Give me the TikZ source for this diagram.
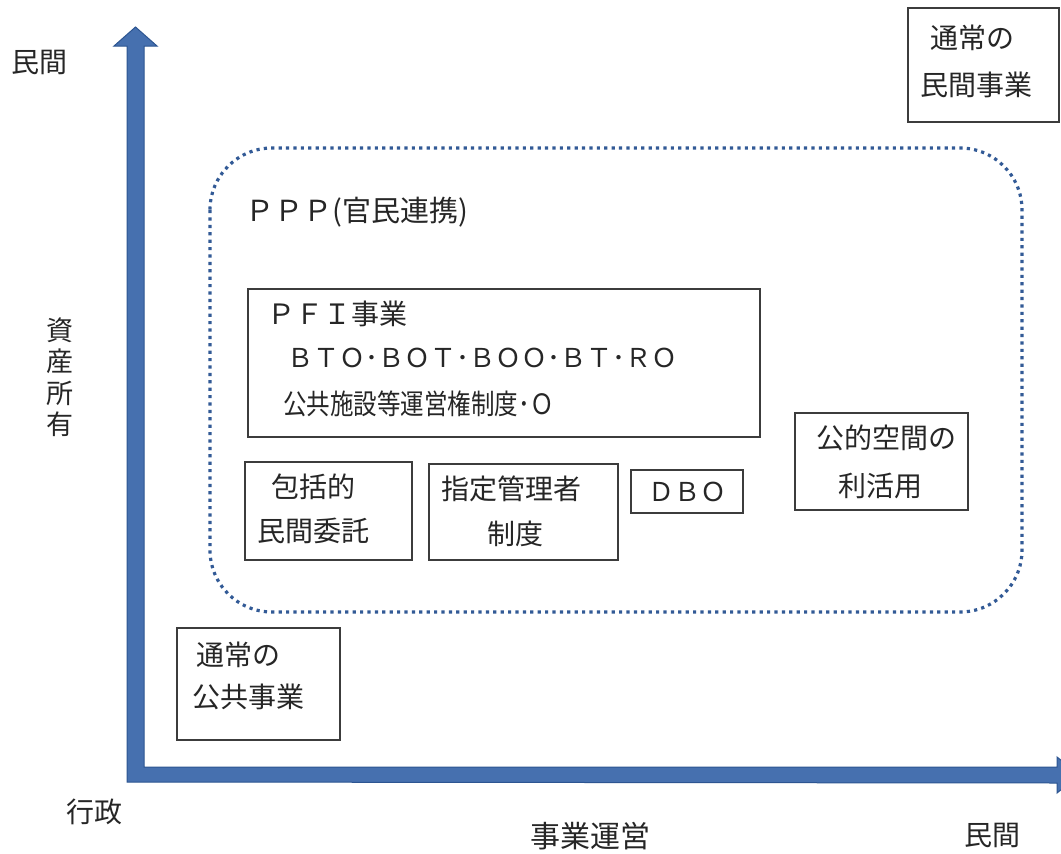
\documentclass[tikz,border=0pt]{standalone}
\usepackage{fontspec}
\setmainfont{Noto Sans CJK JP}
\usetikzlibrary{calc}
\definecolor{axisblue}{RGB}{70,112,175}
\definecolor{axisdark}{RGB}{45,85,145}
\definecolor{dotblue}{RGB}{50,90,150}
\definecolor{boxline}{RGB}{60,60,60}
\tikzset{
  lbl/.style={font=\fontsize{28}{32}\selectfont, text=black!85, inner sep=0pt},
  frame/.style={draw=boxline, line width=1.6pt},
  axis/.style={fill=axisblue, draw=axisdark, line width=1pt}
}
\begin{document}
\begin{tikzpicture}[x=1pt,y=-1pt]
\useasboundingbox (0,0) rectangle (1061,854);
\fill[white] (0,0) rectangle (1061,854);
% axes
\begin{scope}
\clip (0,0) rectangle (1061,854);
\filldraw[axis] (127,782) -- (127,46) -- (114,46) -- (135.5,27) -- (157,46) -- (144,46) -- (144,767) -- (1057,767) -- (1057,757) -- (1080,775) -- (1057,793) -- (1057,783) -- cycle;
\end{scope}
% axis labels
\node[lbl] (minkanY) at (40,62) {民間};
\node[lbl, align=center, font=\fontsize{27}{31.5}\selectfont] (shisan) at (60,377) {資\\産\\所\\有};
\node[lbl] (gyosei) at (94,812) {行政};
\node[lbl, font=\fontsize{30}{34}\selectfont] (jigyo) at (590,836) {事業運営};
\node[lbl] (minkanX) at (992,835) {民間};
% top right box
\draw[frame] (908,8) rectangle (1059,122);
\node[lbl] (tsujo1) at (972,38) {通常の};
\node[lbl] (tsujo2) at (976,85) {民間事業};
% PPP dotted area
\draw[dotblue, line width=3.2pt, dash pattern=on 3.2pt off 4.2pt, rounded corners=62pt] (210,148) rectangle (1022,612);
\node[lbl, anchor=west, font=\fontsize{29}{32}\selectfont] (ppp) at (245,212) {ＰＰＰ(官民連携)};
% PFI box
\draw[frame] (248,289) rectangle (760,437);
\node[lbl, anchor=west] (pfi) at (267,314) {ＰＦＩ事業};
\node[lbl, anchor=west, font=\fontsize{26}{30}\selectfont] (bto) at (287,358) {ＢＴＯ･ＢＯＴ･ＢＯＯ･ＢＴ･ＲＯ};
\node[lbl, anchor=west] (kokyo) at (283,404) {\scalebox{0.84}[1]{公共施設等運営権制度･Ｏ}};
% other boxes
\draw[frame] (245,462) rectangle (412,560);
\node[lbl] (hokatsu1) at (313,487) {包括的};
\node[lbl] (hokatsu2) at (313,531) {民間委託};
\draw[frame] (429,464) rectangle (618,560);
\node[lbl] (shitei1) at (511,489) {指定管理者};
\node[lbl] (shitei2) at (515,534) {制度};
\draw[frame] (631,470) rectangle (743,513);
\node[lbl, font=\fontsize{26}{30}\selectfont] (dbo) at (687,492) {ＤＢＯ};
\draw[frame] (795,413) rectangle (968,510);
\node[lbl] (koteki1) at (886,438) {公的空間の};
\node[lbl] (koteki2) at (880,486) {利活用};
\draw[frame] (177,628) rectangle (340,740);
\node[lbl] (kokyo1) at (238,655) {通常の};
\node[lbl] (kokyo2) at (248,697) {公共事業};
\end{tikzpicture}
\end{document}
